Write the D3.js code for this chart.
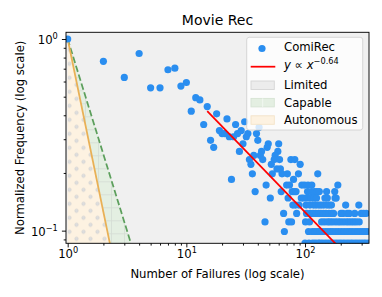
<!DOCTYPE html>
<html>
<head>
<meta charset="utf-8">
<script src="https://cdn.jsdelivr.net/npm/d3@7"></script>
<style>
  body { margin: 0; background: #fff; }
  svg { display: block; font-family: "DejaVu Sans", sans-serif; }
</style>
</head>
<body>
<svg id="drawing_region"></svg>
<script>
// normalized frequency levels, and the failure counts (x) seen at each level
const freqLevels = [1, 0.840, 0.765, 0.704, 0.691, 0.630, 0.593, 0.568, 0.556, 0.494,
    0.481, 0.444, 0.420, 0.407, 0.383, 0.370, 0.358, 0.346, 0.333, 0.321,
    0.309, 0.296, 0.284, 0.272, 0.259, 0.247, 0.235, 0.222, 0.210, 0.198,
    0.185, 0.173, 0.160, 0.148, 0.136, 0.123, 0.111, 0.099, 0.086];
const failuresAtLevel = [
    [1], [4], [2], [8], [7], [3], [10], [9], [5, 6], [12],
    [13], [15], [11], [18], [22], [31], [14, 26], [41], [19, 29], [20, 21, 27, 33, 39],
    [23, 25, 32], [16, 40], [30, 49, 60], [17, 48], [28, 43, 59], [37, 42, 56],
    [34, 44, 55, 61, 76, 82], [35, 52, 91], [58, 62], [36, 53, 64, 71, 88, 128],
    [24, 80],
    [47, 70, 74, 94, 99, 106, 114, 189],
    [38, 63, 78, 81, 84, 105, 113, 120, 126, 132, 152, 178],
    [51, 72, 93, 97, 104, 112, 119, 125, 147, 154, 179, 183],
    [79, 83, 89, 102, 110, 118, 124, 131, 137, 144, 153, 160, 167, 220, 284],
    [66, 85, 103, 111, 117, 123, 130, 136, 143, 150, 159, 168, 174, 201, 208, 227, 236, 262, 298, 312, 328],
    [46, 73, 77, 101, 109, 138, 146, 155, 162, 170, 180, 190, 199, 210, 222, 233, 245, 257, 270, 286],
    [67, 107, 115, 121, 127, 133, 140, 148, 156, 164, 172, 182, 192, 203, 214, 226, 238, 250, 264, 278, 292, 306, 320, 335],
    [100, 108, 116, 122, 129, 134, 141, 149, 157, 166, 175, 185, 195, 205, 216, 228, 240, 252, 266, 280, 295, 310, 325, 341]
];

// power-law fit y = c * x^k, drawn from fitStart to the largest x
const fitExponent = -0.64;
const fitCoef = 2.38;
const fitStart = 15;

// tier boundaries y = x^e (Capable sits between them, Autonomous below the steeper one)
const boundaryExponents = [-2, -3];
const boundaryColors = ['#5c9f5c', '#e9b055'];

const xDomain = [0.968, 346];
const yDomain = [0.0859, 1.084];
const xMajor = [1, 10, 100];
const xMajorExp = ['0', '1', '2'];
const xMinor = [2, 3, 4, 5, 6, 7, 8, 9, 20, 30, 40, 50, 60, 70, 80, 90, 200, 300];
const yMajor = [1, 0.1];
const yMajorExp = ['0', '\u22121'];
const yMinor = [0.09, 0.2, 0.3, 0.4, 0.5, 0.6, 0.7, 0.8, 0.9];

const legendLabels = ['ComiRec', 'Limited', 'Capable', 'Autonomous'];

const W = 382, H = 297;
const margin = {top: 32.3, right: 13, bottom: 53.7, left: 66};
const iw = W - margin.left - margin.right;
const ih = H - margin.top - margin.bottom;
const dotColor = '#2a8ef0';
const dotR = 3.6;

const svg = d3.select('#drawing_region').attr('width', W).attr('height', H);
const defs = svg.append('defs');

defs.append('clipPath').attr('id', 'plotclip')
    .append('rect').attr('width', iw).attr('height', ih);

const dotsPat = defs.append('pattern').attr('id', 'dots')
    .attr('patternUnits', 'userSpaceOnUse').attr('width', 14).attr('height', 14);
[[3.5, 3.5], [10.5, 10.5]].forEach(p => {
    dotsPat.append('circle').attr('cx', p[0]).attr('cy', p[1]).attr('r', 1.7)
        .attr('fill', '#dedede').attr('stroke', '#cdcdcd').attr('stroke-width', 0.6);
});
const plusPat = defs.append('pattern').attr('id', 'plus')
    .attr('patternUnits', 'userSpaceOnUse').attr('width', 13).attr('height', 13);
plusPat.append('path').attr('d', 'M0,6.5H13M6.5,0V13')
    .attr('stroke', '#d4dcd4').attr('stroke-width', 0.8);

const chart = svg.append('g')
    .attr('transform', `translate(${margin.left},${margin.top})`);

const xscale = d3.scaleLog().domain(xDomain).range([0, iw]);
const yscale = d3.scaleLog().domain(yDomain).range([ih, 0]);

const plot = chart.append('g').attr('clip-path', 'url(#plotclip)');

// Limited: whole panel
plot.append('rect').attr('width', iw).attr('height', ih).attr('fill', '#f0f0f0');

const line = d3.line().x(d => xscale(d[0])).y(d => yscale(d[1]));
const y0 = yDomain[0];
const xb = boundaryExponents.map(e => Math.pow(y0, 1 / e));

// Capable
const capable = [[1, 1], [xb[0], y0], [xb[1], y0]];
plot.append('path').attr('d', line(capable) + 'Z').attr('fill', '#e4efe2');
plot.append('path').attr('d', line(capable) + 'Z').attr('fill', 'url(#plus)');
// Autonomous
const auto = [[1, 1], [xb[1], y0], [1, y0]];
plot.append('path').attr('d', line(auto) + 'Z').attr('fill', '#fdf2e1');
plot.append('path').attr('d', line(auto) + 'Z').attr('fill', 'url(#dots)');

boundaryExponents.forEach((e, i) => {
    plot.append('path').attr('d', line([[1, 1], [xb[i], y0]]))
        .attr('fill', 'none').attr('stroke', boundaryColors[i]).attr('stroke-width', 1.75)
        .attr('stroke-dasharray', i === 0 ? '6.5,2.8' : null);
});

const points = freqLevels.flatMap((f, i) => failuresAtLevel[i].map(x => ({x: x, f: f})));
plot.selectAll('circle.pt').data(points).enter()
    .append('circle').attr('class', 'pt')
    .attr('cx', d => xscale(d.x))
    .attr('cy', d => yscale(d.f))
    .attr('r', dotR)
    .attr('fill', dotColor);

const xmax = d3.max(points, d => d.x);
plot.append('path')
    .attr('d', line([fitStart, xmax].map(x => [x, fitCoef * Math.pow(x, fitExponent)])))
    .attr('fill', 'none').attr('stroke', '#ff0000').attr('stroke-width', 1.75);

// frame
chart.append('rect').attr('width', iw).attr('height', ih)
    .attr('fill', 'none').attr('stroke', '#000').attr('stroke-width', 0.93);

// axes
function styleAxis(g) {
    g.select('.domain').remove();
    g.selectAll('.tick line').attr('stroke-width', 0.93);
}
const xg = chart.append('g').attr('transform', `translate(0,${ih})`);
xg.append('g').call(d3.axisBottom(xscale).tickValues(xMinor).tickSize(2.3).tickFormat('')).call(styleAxis);
const xmaj = xg.append('g').call(d3.axisBottom(xscale).tickValues(xMajor).tickSize(4.1).tickFormat('')).call(styleAxis);
xmaj.selectAll('.tick text').each(function(d, i) {
    const t = d3.select(this).attr('y', 15).attr('dy', null)
        .attr('font-size', 11.67).attr('fill', '#000').attr('font-family', '"DejaVu Sans", sans-serif');
    t.append('tspan').text('10');
    t.append('tspan').attr('dy', -4.8).attr('font-size', 8.2).text(xMajorExp[i]);
});

const yg = chart.append('g');
yg.append('g').call(d3.axisLeft(yscale).tickValues(yMinor).tickSize(2.3).tickFormat('')).call(styleAxis);
const ymaj = yg.append('g').call(d3.axisLeft(yscale).tickValues(yMajor).tickSize(4.1).tickFormat('')).call(styleAxis);
ymaj.selectAll('.tick text').each(function(d, i) {
    const t = d3.select(this).attr('x', -8.2).attr('y', 4.4).attr('dy', null)
        .attr('font-size', 11.67).attr('fill', '#000').attr('font-family', '"DejaVu Sans", sans-serif');
    t.append('tspan').text('10');
    t.append('tspan').attr('dy', -4.8).attr('font-size', 8.2).text(yMajorExp[i]);
});

// labels
svg.append('text').attr('x', margin.left + iw / 2).attr('y', 25)
    .attr('text-anchor', 'middle').attr('font-size', 14).text('Movie Rec');
svg.append('text').attr('x', margin.left + iw / 2).attr('y', 277.5)
    .attr('text-anchor', 'middle').attr('font-size', 11.67).text('Number of Failures (log scale)');
svg.append('text').attr('transform', `translate(23.5,${margin.top + ih / 2}) rotate(-90)`)
    .attr('text-anchor', 'middle').attr('font-size', 11.67).text('Normalized Frequency (log scale)');

// legend
const lg = svg.append('g').attr('transform', 'translate(246.7,37.3)');
lg.append('rect').attr('width', 116).attr('height', 92.7).attr('rx', 2.5)
    .attr('fill', '#fff').attr('fill-opacity', 0.8)
    .attr('stroke', '#cccccc').attr('stroke-opacity', 0.8).attr('stroke-width', 0.93);
const tx = 37.3;
lg.append('circle').attr('cx', 15.3).attr('cy', 11.2).attr('r', dotR).attr('fill', dotColor);
lg.append('text').attr('x', tx).attr('y', 13.4).attr('font-size', 11.67).text(legendLabels[0]);
lg.append('line').attr('x1', 4).attr('x2', 28.6).attr('y1', 29.4).attr('y2', 29.4)
    .attr('stroke', '#ff0000').attr('stroke-width', 1.75);
const mt = lg.append('text').attr('x', tx).attr('y', 32).attr('font-size', 11.67);
mt.append('tspan').attr('font-style', 'italic').text('y');
mt.append('tspan').text(' \u221D ');
mt.append('tspan').attr('font-style', 'italic').text('x');
mt.append('tspan').attr('dy', -5).attr('font-size', 8.2).text('\u22120.64');

const patchFill = ['#ececec', '#e4efe2', '#fdf2e1'];
const patchEdge = ['#d6d6d6', '#d6e3d4', '#f3e3c8'];
const patchHatch = [null, 'url(#plus)', null];
[0, 1, 2].forEach(i => {
    const py = 43.7 + i * 17.4;
    lg.append('rect').attr('x', 4.3).attr('y', py).attr('width', 23.3).attr('height', 8.5)
        .attr('fill', patchFill[i]).attr('stroke', patchEdge[i]).attr('stroke-width', 0.9);
    if (patchHatch[i]) {
        lg.append('line').attr('x1', 16).attr('x2', 16).attr('y1', py).attr('y2', py + 8.5)
            .attr('stroke', '#f4f8f4').attr('stroke-width', 0.9);
    }
    lg.append('text').attr('x', tx).attr('y', py + 8.3).attr('font-size', 11.67).text(legendLabels[i + 1]);
});
</script>
</body>
</html>
